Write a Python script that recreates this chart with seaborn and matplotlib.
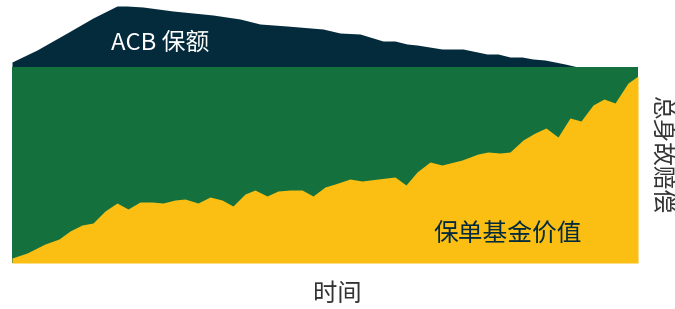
import numpy as np
import matplotlib
matplotlib.use("Agg")
import matplotlib.pyplot as plt
import seaborn as sns

# values (time in arbitrary units, amounts in arbitrary units)
fund_time = [0, 15, 33, 47, 58, 70, 81, 93, 105, 116, 128, 140, 151, 163, 173, 186, 198,
             210, 221, 233, 243, 255, 266, 278, 290, 301, 313, 323, 338, 350, 366, 383,
             394, 405, 418, 430, 450, 466, 476, 488, 498, 511, 523, 534, 546, 558, 569,
             581, 592, 603, 616, 626]
fund_value = [5, 10, 19, 24, 32, 38, 40, 52, 60, 54, 61, 61, 60, 63, 64, 60, 66,
              63, 57, 69, 73, 67, 72, 73, 73, 67, 76, 79, 84, 82, 84, 86,
              78, 91, 101, 98, 103, 109, 111, 110, 111, 123, 130, 135, 126, 145, 142,
              158, 164, 160, 180, 187]

acb_time = [0, 25, 55, 81, 105, 115, 131, 161, 201, 228, 248, 275, 311, 328, 348, 371,
            383, 395, 405, 430, 451, 475, 486, 498, 510, 521, 533, 553, 566, 626]
acb_top = [201, 213, 230, 245, 257, 257, 256, 252, 248, 244, 239, 237, 234, 230, 229, 222,
           222, 219, 218, 214, 214, 209, 209, 206, 206, 204, 203, 199, 196, 196]

death_benefit = 196

labels = {"acb": "ACB 保额", "fund": "保单基金价值", "x": "时间", "y": "总身故赔偿"}

navy = "#032b3b"
green = "#14713d"
yellow = "#fbbe13"

sns.set_theme(style="white")
plt.rcParams['font.family'] = ['Noto Sans CJK SC', 'DejaVu Sans']

fig = plt.figure(figsize=(6.75, 3.09), dpi=100)
ax = fig.add_axes([12 / 675, 46 / 309, 626 / 675, 257 / 309])

# ACB layer above the death benefit
ax.fill_between(acb_time, death_benefit, acb_top, color=navy, linewidth=0)
# total death benefit
ax.fill_between([0, 626], 0, death_benefit, color=green, linewidth=0)
# policy fund value
ax.fill_between(fund_time, 0, fund_value, color=yellow, linewidth=0)

ax.set_xlim(0, 626)
ax.set_ylim(0, 257)
ax.axis("off")

ax.text(0.236, 0.856, labels["acb"], transform=ax.transAxes, color="white",
        fontsize=17.2, ha="center", va="center")
ax.text(0.792, 0.109, labels["fund"], transform=ax.transAxes, color=navy,
        fontsize=17.8, ha="center", va="center")
fig.text(337 / 675, 1 - 294 / 309, labels["x"], color="#333333", fontsize=17.5,
         ha="center", va="center")
fig.text(660 / 675, 1 - 155 / 309, labels["y"], color="#333333", fontsize=17,
         ha="center", va="center", rotation=270)

fig.savefig("out.png", dpi=100)
